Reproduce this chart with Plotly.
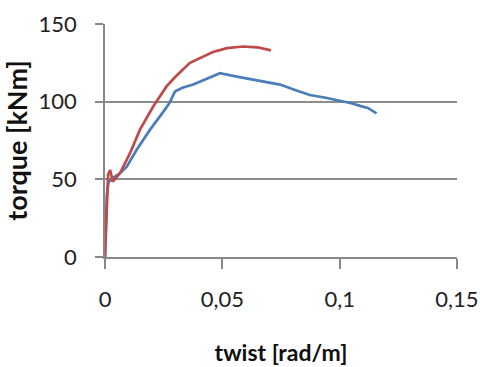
import plotly.graph_objects as go

# Blue series
blue_x = [0.0, 0.0008, 0.0015, 0.0034, 0.0060, 0.0092, 0.0135, 0.0192, 0.0249, 0.0274,
          0.0298, 0.0330, 0.0376, 0.0430, 0.0490, 0.0567, 0.0618, 0.0680, 0.0746, 0.0810,
          0.0873, 0.0940, 0.1000, 0.1050, 0.1087, 0.1120, 0.1157]
blue_y = [0.0, 40.0, 48.0, 51.0, 53.5, 58.0, 69.0, 82.0, 93.6, 99.0,
          106.5, 109.0, 111.0, 114.5, 118.3, 116.0, 114.5, 113.0, 111.0, 107.5,
          104.3, 102.5, 100.7, 99.0, 97.3, 96.0, 92.5]

# Red series
red_x = [0.0, 0.0006, 0.0013, 0.0022, 0.0033, 0.0064, 0.0107, 0.0149, 0.0206, 0.0263,
         0.0300, 0.0362, 0.0405, 0.0460, 0.0520, 0.0588, 0.0650, 0.0707]
red_y = [0.0, 30.0, 53.0, 56.0, 48.5, 54.0, 67.0, 82.0, 97.0, 110.0,
         116.0, 125.0, 128.0, 132.0, 134.5, 135.5, 135.0, 133.0]

x_ticks = [0, 0.05, 0.1, 0.15]
x_labels = ["0", "0,05", "0,1", "0,15"]
y_ticks = [0, 50, 100, 150]

fig = go.Figure()
fig.add_trace(go.Scatter(x=blue_x, y=blue_y, mode="lines",
                         line=dict(color="#4A7EBB", width=2.7), showlegend=False))
fig.add_trace(go.Scatter(x=red_x, y=red_y, mode="lines",
                         line=dict(color="#BE4B48", width=2.7), showlegend=False))

fig.update_layout(
    width=480, height=367,
    margin=dict(l=105, r=23, t=24, b=110),
    paper_bgcolor="white", plot_bgcolor="white",
    separators=", ",
    font=dict(family="Lato", color="#222222"),
    xaxis=dict(
        range=[0, 0.15], tickvals=x_ticks, ticktext=x_labels,
        showgrid=False, zeroline=False, showline=True, linecolor="#888888", linewidth=1.5,
        ticks="outside", ticklen=10, tickcolor="#888888", tickwidth=1.5,
        tickfont=dict(size=22, family="Lato", color="#222222"),
        ticklabelstandoff=12, automargin=False,
        title=dict(text="<b>twist [rad/m]</b>", font=dict(size=23, family="Lato", color="#111111"),
                   standoff=34),
    ),
    yaxis=dict(
        range=[0, 150], tickvals=y_ticks,
        showgrid=True, gridcolor="#8c8c8c", gridwidth=1.5, zeroline=False,
        showline=True, linecolor="#888888", linewidth=1.5,
        ticks="outside", ticklen=8, tickcolor="#888888", tickwidth=1.5,
        tickfont=dict(size=22, family="Lato", color="#222222"),
        ticklabelstandoff=14, automargin=False,
        title=dict(text="<b>torque [kNm]</b>", font=dict(size=27, family="Lato", color="#111111"),
                   standoff=4),
    ),
)

fig.write_html("out.html")
